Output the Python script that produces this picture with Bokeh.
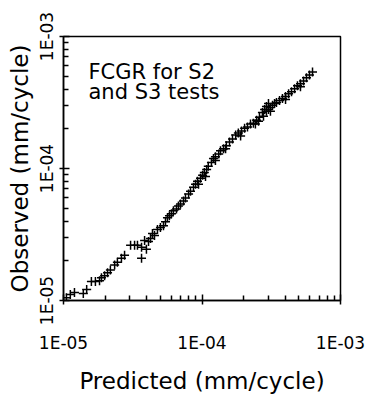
from bokeh.plotting import figure
from bokeh.models import FixedTicker, CustomJSTickFormatter, Label, ColumnDataSource
from bokeh.embed import file_html
from bokeh.resources import INLINE

predicted = [1.05e-5, 1.12e-5, 1.20e-5, 1.39e-5, 1.47e-5, 1.59e-5, 1.70e-5, 1.82e-5, 1.88e-5, 1.98e-5,
             2.08e-5, 2.18e-5, 2.34e-5, 2.45e-5, 2.62e-5, 2.76e-5, 3.05e-5, 3.26e-5, 3.42e-5, 3.66e-5,
             3.66e-5, 3.85e-5, 3.97e-5, 4.11e-5, 4.25e-5, 4.39e-5, 4.54e-5, 4.77e-5, 5.01e-5, 5.27e-5,
             5.45e-5, 5.63e-5, 5.82e-5, 6.02e-5, 6.22e-5, 6.54e-5, 6.76e-5, 7.00e-5, 7.35e-5, 7.60e-5,
             8.00e-5, 8.26e-5, 8.68e-5, 8.98e-5, 9.28e-5, 9.75e-5, 1.01e-4, 1.04e-4, 1.08e-4, 1.11e-4,
             1.17e-4, 1.21e-4, 1.25e-4, 1.32e-4, 1.36e-4, 1.43e-4, 1.50e-4, 1.58e-4, 1.66e-4, 1.75e-4,
             1.83e-4, 1.93e-4, 2.03e-4, 2.13e-4, 2.24e-4, 2.35e-4, 2.48e-4, 2.60e-4, 2.73e-4, 2.83e-4,
             2.92e-4, 3.02e-4, 3.12e-4, 3.23e-4, 3.34e-4, 3.45e-4, 3.63e-4, 3.81e-4, 4.01e-4, 4.22e-4,
             4.43e-4, 4.66e-4, 4.89e-4, 5.14e-4, 5.41e-4, 5.68e-4, 5.97e-4, 6.28e-4,
             9.44e-5, 1.06e-4, 1.25e-4, 1.48e-4, 1.90e-4, 2.43e-4, 2.78e-4, 2.92e-4, 3.02e-4, 3.12e-4,
             2.56e-4, 4.01e-4, 5.14e-4]
observed = [1.05e-5, 1.11e-5, 1.15e-5, 1.13e-5, 1.21e-5, 1.39e-5, 1.39e-5, 1.41e-5, 1.49e-5, 1.54e-5,
            1.62e-5, 1.70e-5, 1.86e-5, 1.95e-5, 2.09e-5, 2.20e-5, 2.62e-5, 2.62e-5, 2.62e-5, 2.53e-5,
            2.09e-5, 2.85e-5, 2.44e-5, 2.80e-5, 2.95e-5, 3.22e-5, 3.11e-5, 3.45e-5, 3.57e-5, 3.69e-5,
            3.95e-5, 4.24e-5, 4.38e-5, 4.54e-5, 4.78e-5, 4.94e-5, 5.20e-5, 5.39e-5, 5.67e-5, 5.97e-5,
            6.40e-5, 6.73e-5, 7.21e-5, 7.60e-5, 8.00e-5, 8.42e-5, 8.87e-5, 9.34e-5, 9.84e-5, 1.04e-4,
            1.11e-4, 1.19e-4, 1.23e-4, 1.29e-4, 1.36e-4, 1.41e-4, 1.49e-4, 1.59e-4, 1.67e-4, 1.79e-4,
            1.86e-4, 1.92e-4, 2.02e-4, 2.06e-4, 2.17e-4, 2.20e-4, 2.32e-4, 2.44e-4, 2.66e-4, 2.80e-4,
            2.95e-4, 3.11e-4, 2.90e-4, 3.01e-4, 3.11e-4, 3.16e-4, 3.27e-4, 3.39e-4, 3.51e-4, 3.69e-4,
            3.82e-4, 4.02e-4, 4.24e-4, 4.38e-4, 4.61e-4, 4.86e-4, 5.12e-4, 5.39e-4,
            7.60e-5, 8.71e-5, 1.15e-4, 1.41e-4, 1.76e-4, 2.17e-4, 2.49e-4, 2.71e-4, 2.80e-4, 2.71e-4,
            2.28e-4, 3.33e-4, 4.16e-4]

major_ticks = [1e-5, 1e-4, 1e-3]
minor_ticks = [2e-5, 3e-5, 4e-5, 5e-5, 6e-5, 7e-5, 8e-5, 9e-5,
               2e-4, 3e-4, 4e-4, 5e-4, 6e-4, 7e-4, 8e-4, 9e-4]
x_title = "Predicted (mm/cycle)"
y_title = "Observed (mm/cycle)"
note_lines = ["FCGR for S2", "and S3 tests"]

FONT = "DejaVu Sans"

p = figure(width=366, height=396, x_axis_type="log", y_axis_type="log",
           x_range=(1e-5, 1e-3), y_range=(1e-5, 1e-3),
           output_backend="svg", toolbar_location=None,
           min_border_left=63, min_border_right=26, min_border_top=36, min_border_bottom=92)
p.background_fill_color = "white"
p.border_fill_color = "white"
p.outline_line_color = "black"
p.outline_line_width = 1.5
p.xgrid.visible = False
p.ygrid.visible = False

src = ColumnDataSource(dict(x=predicted, y=observed))
p.scatter("x", "y", source=src, marker="cross", size=9, line_color="black", line_width=1.5)

fmt = CustomJSTickFormatter(code="return tick.toExponential(0).toUpperCase().replace('E-', 'E-0');")
for ax in (p.xaxis[0], p.yaxis[0]):
    ax.ticker = FixedTicker(ticks=major_ticks, minor_ticks=minor_ticks)
    ax.formatter = fmt
    ax.axis_line_color = "black"
    ax.axis_line_width = 1.5
    ax.major_tick_in = 6
    ax.major_tick_out = 4
    ax.major_tick_line_width = 1.5
    ax.minor_tick_in = 5
    ax.minor_tick_out = 0
    ax.minor_tick_line_width = 1.5
    ax.major_label_text_font = FONT
    ax.major_label_text_font_size = "17px"
    ax.major_label_text_color = "black"
    ax.axis_label_text_font = FONT
    ax.axis_label_text_font_size = "23px"
    ax.axis_label_text_font_style = "normal"
    ax.axis_label_text_color = "black"

p.xaxis[0].axis_label = x_title
p.yaxis[0].axis_label = y_title
p.yaxis[0].major_label_orientation = "vertical"
p.xaxis[0].major_label_standoff = 28
p.xaxis[0].axis_label_standoff = 12
p.yaxis[0].major_label_standoff = 3
p.yaxis[0].axis_label_standoff = 1

for i, t in enumerate(note_lines):
    p.add_layout(Label(x=25, y=217 - i * 20, x_units="screen", y_units="screen", text=t,
                       text_font=FONT, text_font_size="21px", text_color="black"))

open("out.html", "w").write(file_html(p, INLINE))
